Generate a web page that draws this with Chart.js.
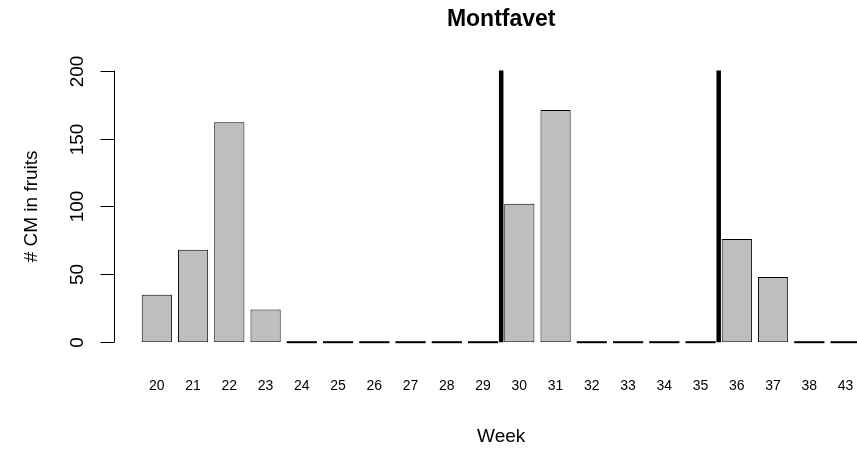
<!DOCTYPE html>
<html>
<head>
<meta charset="utf-8">
<script src="https://cdn.jsdelivr.net/npm/chart.js@4"></script>
<style>
html, body { margin: 0; padding: 0; background: #fff; overflow: hidden; }
</style>
</head>
<body>
<canvas id="c" width="880" height="452"></canvas>
<script>
const weeks = ['20', '21', '22', '23', '24', '25', '26', '27', '28', '29',
	'30', '31', '32', '33', '34', '35', '36', '37', '38', '43'];
const counts = [35, 68, 162, 24, 0, 0, 0, 0, 0, 0,
	102, 171, 0, 0, 0, 0, 76, 48, 0, 0];
const yTicks = [0, 50, 100, 150, 200];
const breakAfter = ['29', '35'];

const FONT = '"Liberation Sans", Arial, Helvetica, sans-serif';

// R style extras: zero bars, break lines, detached y axis
const rAxes = {
	id: 'rAxes',
	afterDatasetsDraw(chart) {
		const ctx = chart.ctx;
		const x = chart.scales.x, y = chart.scales.y;
		const meta = chart.getDatasetMeta(0);
		ctx.save();
		ctx.strokeStyle = '#000';
		ctx.fillStyle = '#000';

		ctx.lineWidth = 2;
		meta.data.forEach((bar, i) => {
			if (counts[i] !== 0) return;
			ctx.beginPath();
			ctx.moveTo(bar.x - bar.width / 2, bar.base);
			ctx.lineTo(bar.x + bar.width / 2, bar.base);
			ctx.stroke();
		});

		ctx.lineWidth = 4.5;
		breakAfter.forEach(w => {
			const i = weeks.indexOf(w);
			const px = (x.getPixelForValue(i) + x.getPixelForValue(i + 1)) / 2;
			ctx.beginPath();
			ctx.moveTo(px, y.getPixelForValue(yTicks[0]));
			ctx.lineTo(px, y.getPixelForValue(yTicks[yTicks.length - 1]));
			ctx.stroke();
		});

		const ax = 114.5;
		ctx.lineWidth = 1;
		ctx.beginPath();
		ctx.moveTo(ax, y.getPixelForValue(yTicks[0]));
		ctx.lineTo(ax, y.getPixelForValue(yTicks[yTicks.length - 1]));
		ctx.stroke();
		ctx.font = '19px ' + FONT;
		ctx.textAlign = 'center';
		ctx.textBaseline = 'middle';
		yTicks.forEach(v => {
			const py = Math.round(y.getPixelForValue(v)) + 0.5;
			ctx.beginPath();
			ctx.moveTo(ax - 14, py);
			ctx.lineTo(ax, py);
			ctx.stroke();
			ctx.save();
			ctx.translate(78, py);
			ctx.rotate(-Math.PI / 2);
			ctx.fillText(String(v), 0, 0);
			ctx.restore();
		});

		ctx.save();
		ctx.translate(32, (y.top + y.bottom) / 2);
		ctx.rotate(-Math.PI / 2);
		ctx.fillText('# CM in fruits', 0, 0);
		ctx.restore();

		ctx.restore();
	}
};

new Chart('c', {
	type: 'bar',
	data: {
		labels: weeks,
		datasets: [{
			data: counts,
			backgroundColor: '#BEBEBE',
			borderColor: '#000',
			borderWidth: 1,
			borderSkipped: false,
			barPercentage: 1 / 1.2,
			categoryPercentage: 1,
		}],
	},
	options: {
		responsive: false,
		animation: false,
		devicePixelRatio: 1,
		layout: { padding: { left: 138.7, right: 16.3, top: 0, bottom: 0 } },
		plugins: {
			legend: { display: false },
			tooltip: { enabled: false },
			title: {
				display: true,
				text: 'Montfavet',
				color: '#000',
				font: { family: FONT, size: 23, weight: 'bold' },
				padding: { top: 6, bottom: 37 },
			},
		},
		scales: {
			x: {
				grid: { display: true, drawOnChartArea: false, drawTicks: true, tickLength: 32, color: 'rgba(0,0,0,0)' },
				border: { display: false },
				ticks: { padding: 3.6, color: '#000', maxRotation: 0, autoSkip: false, font: { family: FONT, size: 14 } },
				title: {
					display: true,
					text: 'Week',
					color: '#000',
					font: { family: FONT, size: 19 },
					padding: { top: 27, bottom: 4 },
				},
			},
			y: {
				display: false,
				min: 0,
				max: 200,
			},
		},
	},
	plugins: [rAxes],
});
</script>
</body>
</html>
